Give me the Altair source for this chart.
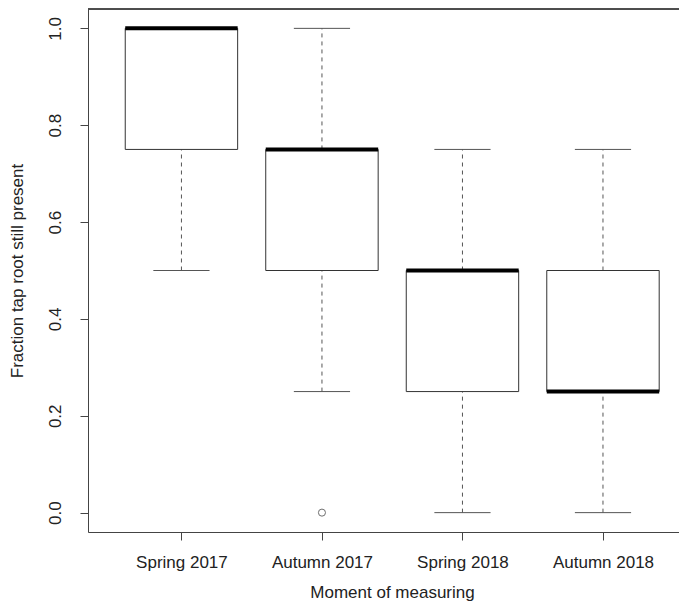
import altair as alt
import pandas as pd

categories = ["Spring 2017", "Autumn 2017", "Spring 2018", "Autumn 2018"]
positions = [1, 2, 3, 4]
lower_whisker = [0.5, 0.25, 0.0, 0.0]
q1 = [0.75, 0.5, 0.25, 0.25]
median = [1.0, 0.75, 0.5, 0.25]
q3 = [1.0, 0.75, 0.5, 0.5]
upper_whisker = [1.0, 1.0, 0.75, 0.75]
outlier_pos = [2]
outlier_val = [0.0]
y_ticks = [0.0, 0.2, 0.4, 0.6, 0.8, 1.0]

df = pd.DataFrame({
    "cat": categories, "pos": positions, "lo": lower_whisker, "q1": q1,
    "med": median, "q3": q3, "hi": upper_whisker,
})
out = pd.DataFrame({"pos": outlier_pos, "val": outlier_val})

W, H = 591, 523
FONT = "Liberation Sans"
label_expr = "[" + ",".join("'%s'" % c for c in categories) + "][datum.value - 1]"

xscale = alt.Scale(domain=[0.335, 4.541], nice=False, zero=False)
yscale = alt.Scale(domain=[-0.04, 1.04], nice=False, zero=False)

x_axis = alt.Axis(
    values=positions, labelExpr=label_expr, title="Moment of measuring",
    grid=False, domainColor="#444", tickColor="#444", tickSize=8,
    labelFont=FONT, labelFontSize=17, labelColor="#222", labelPadding=27,
    labelBaseline="alphabetic", labelAlign="center",
    titleFont=FONT, titleFontSize=17, titleFontWeight="normal", titleColor="#222",
    titleX=304, titleY=65, titleBaseline="alphabetic", titleAlign="center",
)
y_axis = alt.Axis(
    values=y_ticks, format=".1f", title="Fraction tap root still present",
    grid=False, domainColor="#444", tickColor="#444", tickSize=8,
    labelFont=FONT, labelFontSize=17, labelColor="#222", labelAngle=270,
    labelAlign="center", labelBaseline="middle", labelPadding=25,
    titleFont=FONT, titleFontSize=17, titleFontWeight="normal", titleColor="#222",
    titleAngle=270, titleX=-71, titleY=H / 2, titleBaseline="middle", titleAlign="center",
)

base = alt.Chart(df).transform_calculate(
    left="datum.pos - 0.4", right="datum.pos + 0.4",
    capl="datum.pos - 0.2", capr="datum.pos + 0.2",
)

boxes = base.mark_rect(fill="white", stroke="#333", strokeWidth=1).encode(
    x=alt.X("left:Q", scale=xscale, axis=x_axis),
    x2="right:Q",
    y=alt.Y("q1:Q", scale=yscale, axis=y_axis),
    y2="q3:Q",
)
whisk_lo = base.mark_rule(color="#555", strokeDash=[4, 4], strokeWidth=1).encode(
    x=alt.X("pos:Q", scale=xscale), y=alt.Y("lo:Q", scale=yscale), y2="q1:Q")
whisk_hi = base.mark_rule(color="#555", strokeDash=[4, 4], strokeWidth=1).encode(
    x=alt.X("pos:Q", scale=xscale), y=alt.Y("q3:Q", scale=yscale), y2="hi:Q")
cap_lo = base.mark_rule(color="#555", strokeWidth=1).encode(
    x=alt.X("capl:Q", scale=xscale), x2="capr:Q", y=alt.Y("lo:Q", scale=yscale))
cap_hi = base.mark_rule(color="#555", strokeWidth=1).encode(
    x=alt.X("capl:Q", scale=xscale), x2="capr:Q", y=alt.Y("hi:Q", scale=yscale))
med = base.mark_rule(color="black", strokeWidth=4).encode(
    x=alt.X("left:Q", scale=xscale), x2="right:Q", y=alt.Y("med:Q", scale=yscale))
outl = alt.Chart(out).mark_point(shape="circle", filled=False, color="#333",
                                 size=50, strokeWidth=1).encode(
    x=alt.X("pos:Q", scale=xscale), y=alt.Y("val:Q", scale=yscale))
top_frame = alt.Chart(df).mark_rule(color="#444", strokeWidth=1).encode(
    x=alt.value(0), x2=alt.value(W), y=alt.value(0))

chart = alt.layer(whisk_lo, whisk_hi, boxes, cap_lo, cap_hi, med, outl, top_frame).properties(
    width=W, height=H,
    autosize=alt.AutoSizeParams(type="none"),
    padding={"left": 80, "top": 1, "right": 0, "bottom": 72},
).configure_view(stroke=None).configure(background="white")

chart.save("out.html", embed_options={"renderer": "svg", "actions": False})
